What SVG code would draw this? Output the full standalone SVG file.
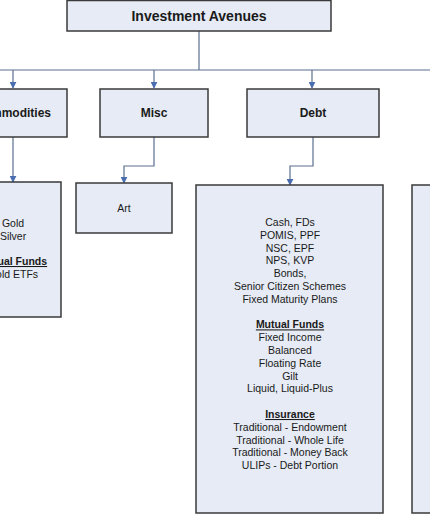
<svg xmlns="http://www.w3.org/2000/svg" width="430" height="516" viewBox="0 0 430 516">
<defs>
<marker id="arr" viewBox="0 0 10 10" refX="9" refY="5" markerWidth="7" markerHeight="7" markerUnits="userSpaceOnUse" orient="auto">
<path d="M0,0 L10,5 L0,10 z" fill="#4a6db0"/>
</marker>
<style>
.box{fill:#e6ebf5;stroke:#3a3a3a;stroke-width:1.5}
.conn{fill:none;stroke:#5b6f8f;stroke-width:1.2}
.t{font-family:"Liberation Sans",Arial,sans-serif;font-size:10.5px;fill:#1a1a1a;text-anchor:middle}
.h{font-family:"Liberation Sans",Arial,sans-serif;font-weight:bold;fill:#1a1a1a;text-anchor:middle}
.u{text-decoration:underline;font-weight:bold}
</style>
</defs>
<rect width="430" height="516" fill="#ffffff"/>
<g id="connectors">
<path class="conn" d="M199,31 V70"/>
<path class="conn" d="M0,70 H430"/>
<path class="conn" d="M13,70 V88" marker-end="url(#arr)"/>
<path class="conn" d="M154,70 V88" marker-end="url(#arr)"/>
<path class="conn" d="M312,70 V88" marker-end="url(#arr)"/>
<path class="conn" d="M13,137 V182" marker-end="url(#arr)"/>
<path class="conn" d="M154,137 V166 H124 V183" marker-end="url(#arr)"/>
<path class="conn" d="M313,137 V166 H290 V185" marker-end="url(#arr)"/>
</g>
<g id="root">
<rect class="box" x="67" y="0.5" width="264" height="30.5"/>
<text class="h" x="199" y="21" font-size="14">Investment Avenues</text>
</g>
<g id="commodities">
<rect class="box" x="-41" y="89" width="108" height="48"/>
<text class="h" x="13" y="117" font-size="12">Commodities</text>
</g>
<g id="misc">
<rect class="box" x="100" y="89" width="108" height="48"/>
<text class="h" x="154" y="117" font-size="12">Misc</text>
</g>
<g id="debt">
<rect class="box" x="247" y="89" width="132" height="48"/>
<text class="h" x="313" y="117" font-size="12">Debt</text>
</g>
<g id="commodities-items">
<rect class="box" x="-60" y="182" width="121" height="135"/>
<text class="t" x="13" y="227">Gold</text>
<text class="t" x="13" y="240">Silver</text>
<text class="t u" x="13" y="265">Mutual Funds</text>
<text class="t" x="13" y="278">Gold ETFs</text>
</g>
<g id="misc-items">
<rect class="box" x="76" y="183" width="96" height="50"/>
<text class="t" x="124" y="212">Art</text>
</g>
<g id="debt-items">
<rect class="box" x="196" y="185" width="187" height="328"/>
<text class="t" x="290" y="226">Cash, FDs</text>
<text class="t" x="290" y="238.8">POMIS, PPF</text>
<text class="t" x="290" y="251.6">NSC, EPF</text>
<text class="t" x="290" y="264.4">NPS, KVP</text>
<text class="t" x="290" y="277.2">Bonds,</text>
<text class="t" x="290" y="290">Senior Citizen Schemes</text>
<text class="t" x="290" y="302.8">Fixed Maturity Plans</text>
<text class="t u" x="290" y="328.4">Mutual Funds</text>
<text class="t" x="290" y="341.2">Fixed Income</text>
<text class="t" x="290" y="354">Balanced</text>
<text class="t" x="290" y="366.8">Floating Rate</text>
<text class="t" x="290" y="379.6">Gilt</text>
<text class="t" x="290" y="392.4">Liquid, Liquid-Plus</text>
<text class="t u" x="290" y="418">Insurance</text>
<text class="t" x="290" y="430.8">Traditional - Endowment</text>
<text class="t" x="290" y="443.6">Traditional - Whole Life</text>
<text class="t" x="290" y="456.4">Traditional - Money Back</text>
<text class="t" x="290" y="469.2">ULIPs - Debt Portion</text>
</g>
<g id="right-items">
<rect class="box" x="412" y="185" width="60" height="328"/>
</g>
</svg>
